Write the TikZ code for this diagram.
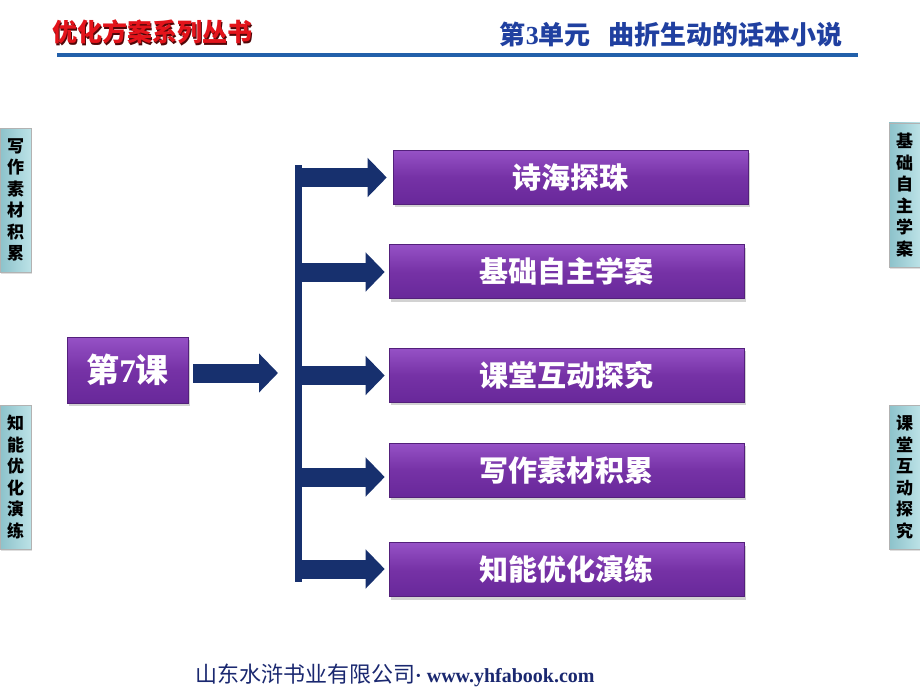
\documentclass[tikz,border=0pt]{standalone}
\usepackage{fontspec}
\setmainfont{Liberation Serif}
\newfontfamily\cjk{Noto Sans CJK SC}
\usetikzlibrary{arrows.meta,shadows,calc}
\definecolor{boxpurple}{HTML}{7632A6}
\definecolor{boxtop}{HTML}{9652C6}
\definecolor{boxbot}{HTML}{68289A}
\definecolor{navy}{HTML}{17306E}
\definecolor{hdrred}{HTML}{E3141B}
\definecolor{hdrblue}{HTML}{2040A0}
\definecolor{linblue}{HTML}{2260AA}
\definecolor{tabL}{HTML}{8CC2CA}
\definecolor{tabR}{HTML}{BCE2E7}
\definecolor{foot}{HTML}{1A2870}
\tikzset{
  pbox/.style={rectangle, minimum width=355pt, minimum height=54pt, inner sep=0pt,
    top color=boxtop, bottom color=boxbot, middle color=boxpurple,
    draw=boxbot!80!black, line width=0.6pt,
    drop shadow={shadow xshift=2pt, shadow yshift=-3pt, fill=black!35},
    text=white, font=\cjk\bfseries\fontsize{29}{32}\selectfont},
  tab/.style={rectangle, minimum width=31pt, minimum height=144pt, inner sep=0pt,
    left color=tabL, right color=tabR, draw=black!30, line width=0.5pt,
    drop shadow={shadow xshift=1pt, shadow yshift=-2pt, fill=black!25},
    align=center, font=\cjk\bfseries\fontsize{17}{21.5}\selectfont},
  fatarrow/.style={draw=navy, line width=19pt,
    -{Triangle[width=38pt,length=19pt]}},
}
\begin{document}
\begin{tikzpicture}[x=1pt,y=-1pt]
\useasboundingbox (0,0) rectangle (920,690);
\fill[white] (0,0) rectangle (920,690);

% header
\node[anchor=west, inner sep=0pt, text=hdrred!35!black, font=\cjk\bfseries\fontsize{25}{28}\selectfont] (hdrs) at (53.5,33.5) {优化方案系列丛书};
\node[anchor=west, inner sep=0pt, text=hdrred, font=\cjk\bfseries\fontsize{25}{28}\selectfont] (hdr) at (52,32) {优化方案系列丛书};
\node[anchor=east, inner sep=0pt, text=hdrblue, font=\bfseries\fontsize{26}{28}\selectfont] (unit) at (843,35)
  {{\cjk 第}3{\cjk 单元}\hspace{18pt}{\cjk 曲折生动的话本小说}};
\coordinate (hl1) at (57,55.5);
\coordinate (hl2) at (858,55.5);
\draw[linblue, line width=4pt] (hl1) -- (hl2);

% side tabs
\node[tab] (tl1) at (15.5,200) {写\\作\\素\\材\\积\\累};
\node[tab] (tl2) at (15.5,477) {知\\能\\优\\化\\演\\练};
\node[tab] (tr1) at (904.5,195) {基\\础\\自\\主\\学\\案};
\node[tab] (tr2) at (904.5,477) {课\\堂\\互\\动\\探\\究};

% lesson box
\node[pbox, minimum width=121pt, minimum height=66pt, font=\bfseries\fontsize{33}{36}\selectfont] (lesson) at (127.5,370)
  {{\cjk 第}7{\cjk 课}};

% right boxes
\node[pbox] (b1) at (570.5,177) {诗海探珠};
\node[pbox] (b2) at (566.5,271.5) {基础自主学案};
\node[pbox] (b3) at (566.5,375) {课堂互动探究};
\node[pbox] (b4) at (566.5,470) {写作素材积累};
\node[pbox] (b5) at (566.5,569.5) {知能优化演练};

% bracket
\coordinate (bartop) at (298.5,165);
\coordinate (barbot) at (298.5,582);
\coordinate (barin) at (295,373);
\draw[navy, line width=7pt] (bartop) -- (barbot);

% main arrow
\draw[fatarrow] ($(lesson.east)+(5,3)$) -- ($(barin)+(-17,0)$);

% branch arrows
\draw[fatarrow] (302,177.5) -- ($(b1.west)+(-6,0.5)$);
\draw[fatarrow] (302,272) -- ($(b2.west)+(-4,0.5)$);
\draw[fatarrow] (302,375.5) -- ($(b3.west)+(-4,0.5)$);
\draw[fatarrow] (302,477) -- ($(b4.west)+(-4,7)$);
\draw[fatarrow] (302,569) -- ($(b5.west)+(-4,-0.5)$);

% footer
\node[anchor=west, inner sep=0pt, text=foot] (footer) at (195,675)
  {{\cjk\fontsize{22}{24}\selectfont 山东水浒书业有限公司}{\fontsize{20}{22}\selectfont\textbf{·}\hspace{5pt}\bfseries www.yhfabook.com}};
\end{tikzpicture}
\end{document}
